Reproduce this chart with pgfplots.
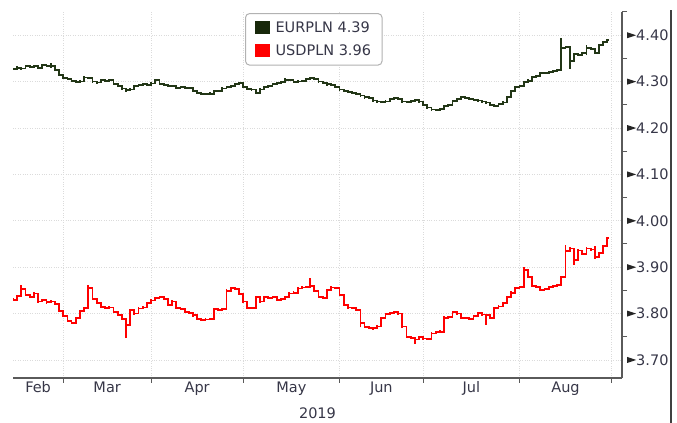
\documentclass[border=0pt]{standalone}
\usepackage{pgfplots}
\pgfplotsset{compat=1.18}
\usepackage{pgfplotstable}
\usepackage{fontspec}
\setmainfont{DejaVu Sans}
\definecolor{eurcol}{RGB}{34,54,22}
\definecolor{eurleg}{RGB}{24,40,10}
\definecolor{usdcol}{RGB}{255,0,0}
\definecolor{txtcol}{RGB}{55,55,72}
\definecolor{axcol}{RGB}{90,90,90}
\pgfplotstableread{
x c
0 4.327
1 4.330
2 4.328
3 4.334
4 4.331
5 4.333
6 4.330
7 4.335
8 4.333
9 4.334
10 4.325
11 4.314
12 4.308
13 4.305
14 4.301
15 4.299
16 4.300
17 4.309
18 4.308
19 4.300
20 4.298
21 4.303
22 4.302
23 4.304
24 4.295
25 4.290
26 4.285
27 4.281
28 4.283
29 4.291
30 4.293
31 4.294
32 4.293
33 4.296
34 4.303
35 4.295
36 4.293
37 4.290
38 4.290
39 4.287
40 4.288
41 4.286
42 4.286
43 4.280
44 4.276
45 4.273
46 4.273
47 4.274
48 4.279
49 4.280
50 4.285
51 4.289
52 4.291
53 4.295
54 4.297
55 4.288
56 4.284
57 4.283
58 4.276
59 4.283
60 4.288
61 4.290
62 4.295
63 4.297
64 4.299
65 4.304
66 4.303
67 4.299
68 4.300
69 4.301
70 4.306
71 4.307
72 4.305
73 4.300
74 4.297
75 4.294
76 4.292
77 4.288
78 4.283
79 4.280
80 4.277
81 4.275
82 4.274
83 4.270
84 4.266
85 4.264
86 4.259
87 4.257
88 4.256
89 4.257
90 4.262
91 4.264
92 4.263
93 4.257
94 4.256
95 4.258
96 4.261
97 4.257
98 4.249
99 4.244
100 4.240
101 4.239
102 4.241
103 4.247
104 4.250
105 4.258
106 4.262
107 4.266
108 4.265
109 4.262
110 4.260
111 4.259
112 4.257
113 4.255
114 4.250
115 4.248
116 4.252
117 4.255
118 4.266
119 4.279
120 4.288
121 4.291
122 4.299
123 4.302
124 4.310
125 4.312
126 4.318
127 4.319
128 4.320
129 4.322
130 4.325
131 4.372
132 4.375
133 4.345
134 4.360
135 4.357
136 4.362
137 4.372
138 4.370
139 4.362
140 4.378
141 4.385
142 4.390
}\eurdata
\pgfplotstableread{
x c
0 3.830
1 3.838
2 3.852
3 3.840
4 3.836
5 3.843
6 3.826
7 3.829
8 3.824
9 3.826
10 3.821
11 3.805
12 3.795
13 3.784
14 3.780
15 3.790
16 3.806
17 3.812
18 3.855
19 3.832
20 3.822
21 3.814
22 3.812
23 3.813
24 3.804
25 3.797
26 3.789
27 3.776
28 3.808
29 3.800
30 3.811
31 3.813
32 3.822
33 3.828
34 3.834
35 3.836
36 3.832
37 3.818
38 3.826
39 3.812
40 3.810
41 3.803
42 3.801
43 3.796
44 3.789
45 3.786
46 3.787
47 3.788
48 3.810
49 3.808
50 3.810
51 3.848
52 3.855
53 3.853
54 3.842
55 3.826
56 3.812
57 3.812
58 3.835
59 3.826
60 3.836
61 3.834
62 3.836
63 3.829
64 3.832
65 3.836
66 3.843
67 3.845
68 3.854
69 3.856
70 3.857
71 3.860
72 3.848
73 3.835
74 3.833
75 3.850
76 3.856
77 3.855
78 3.840
79 3.818
80 3.813
81 3.812
82 3.808
83 3.780
84 3.771
85 3.769
86 3.768
87 3.772
88 3.790
89 3.799
90 3.801
91 3.803
92 3.800
93 3.772
94 3.750
95 3.748
96 3.744
97 3.749
98 3.746
99 3.745
100 3.757
101 3.760
102 3.761
103 3.790
104 3.793
105 3.803
106 3.800
107 3.790
108 3.791
109 3.789
110 3.795
111 3.801
112 3.798
113 3.796
114 3.790
115 3.812
116 3.815
117 3.822
118 3.835
119 3.845
120 3.855
121 3.857
122 3.893
123 3.878
124 3.860
125 3.857
126 3.850
127 3.852
128 3.857
129 3.860
130 3.862
131 3.878
132 3.935
133 3.940
134 3.915
135 3.936
136 3.928
137 3.940
138 3.938
139 3.922
140 3.930
141 3.945
142 3.962
}\usddata
\begin{document}
\begin{tikzpicture}
\fill[white] (0,0) rectangle (677bp,423bp);
\useasboundingbox (0,0) rectangle (677bp,423bp);
\draw[black!75, line width=1.2bp] (671bp,0) -- (671bp,413bp);
\begin{axis}[
  at={(13bp,45bp)}, anchor=south west,
  scale only axis, width=609bp, height=366bp,
  xmin=0, xmax=145.5, ymin=3.661, ymax=4.45,
  axis x line*=bottom, axis y line*=right,
  axis line style={axcol, line width=1.2bp, -},
  xtick={12,33,55,78,98,121,143}, xticklabels={},
  extra x ticks={6,22.5,44,66.5,88,109.5,132},
  extra x tick labels={Feb,Mar,Apr,May,Jun,Jul,Aug},
  extra x tick style={major tick length=0pt, grid=none},
  ytick={3.7,3.8,3.9,4.0,4.1,4.2,4.3,4.4},
  minor ytick={3.75,3.85,3.95,4.05,4.15,4.25,4.35,4.45},
  tick align=outside,
  major tick length=5bp, minor tick length=5bp,
  every major y tick/.append style={draw=none},
  xmajorgrids, ymajorgrids,
  grid style={dotted, gray!28, line width=0.8bp},
  major tick style={axcol, line width=1bp},
  minor tick style={axcol, line width=1bp},
  tick label style={font=\fontsize{14.5bp}{17bp}\selectfont, text=txtcol},
  yticklabel style={anchor=west, inner xsep=0pt},
  yticklabel={\tikz[baseline={(0,-0.36em)}]\fill[black!85] (0,-3bp) -- (0,3bp) -- (9bp,0) -- cycle;\pgfmathprintnumber[fixed,fixed zerofill,precision=2,assume math mode=true]{\tick}},
  xlabel={2019},
  xlabel style={font=\fontsize{14.5bp}{17bp}\selectfont, text=txtcol},
  legend cell align=left,
  legend style={at={(0.381,0.997)}, anchor=north west, draw=gray!60, line width=1bp,
    rounded corners=4bp, fill=white, font=\fontsize{14.5bp}{17bp}\selectfont, text=txtcol,
    inner xsep=9bp, inner ysep=6bp, row sep=7bp},
]
\addlegendimage{legend image code/.code={\path[draw=none] (0bp,0bp) -- (19bp,0bp);\fill[eurleg, sharp corners, draw=none] (0bp,-6.5bp) rectangle (15bp,6.5bp);}}
\addlegendentry{EURPLN 4.39}
\addlegendimage{legend image code/.code={\path[draw=none] (0bp,0bp) -- (19bp,0bp);\fill[usdcol, sharp corners, draw=none] (0bp,-6.5bp) rectangle (15bp,6.5bp);}}
\addlegendentry{USDPLN 3.96}
\addplot[const plot, eurcol, line width=1.8bp, forget plot,
  error bars/.cd, y dir=both, y fixed=0.0025, error mark=none,
  error bar style={line width=1.8bp}] table[x=x,y=c]{\eurdata};
\addplot[eurcol, line width=1.8bp, forget plot, unbounded coords=jump] coordinates {
 (9,4.330) (9,4.339) (9,nan)
 (17,4.300) (17,4.313) (17,nan)
 (34,4.296) (34,4.306) (34,nan)
 (65,4.299) (65,4.307) (65,nan)
 (131,4.325) (131,4.394) (131,nan)
 (133,4.328) (133,4.375) (133,nan)
 (137,4.357) (137,4.378) (137,nan)
 (140,4.362) (140,4.382) (140,nan)
 (142,4.390) (142.5,4.390)};
\addplot[const plot, usdcol, line width=1.8bp, forget plot,
  error bars/.cd, y dir=both, y fixed=0.0025, error mark=none,
  error bar style={line width=1.8bp}] table[x=x,y=c]{\usddata};
\addplot[usdcol, line width=1.8bp, forget plot, unbounded coords=jump] coordinates {
 (2,3.838) (2,3.862) (2,nan)
 (18,3.812) (18,3.862) (18,nan)
 (27,3.747) (27,3.790) (27,nan)
 (51,3.810) (51,3.852) (51,nan)
 (71,3.855) (71,3.876) (71,nan)
 (83,3.770) (83,3.810) (83,nan)
 (96,3.735) (96,3.750) (96,nan)
 (103,3.760) (103,3.795) (103,nan)
 (113,3.776) (113,3.800) (113,nan)
 (122,3.857) (122,3.900) (122,nan)
 (132,3.878) (132,3.948) (132,nan)
 (134,3.905) (134,3.942) (134,nan)
 (139,3.918) (139,3.945) (139,nan)
 (142,3.962) (142.5,3.962)};
\end{axis}
\end{tikzpicture}
\end{document}
